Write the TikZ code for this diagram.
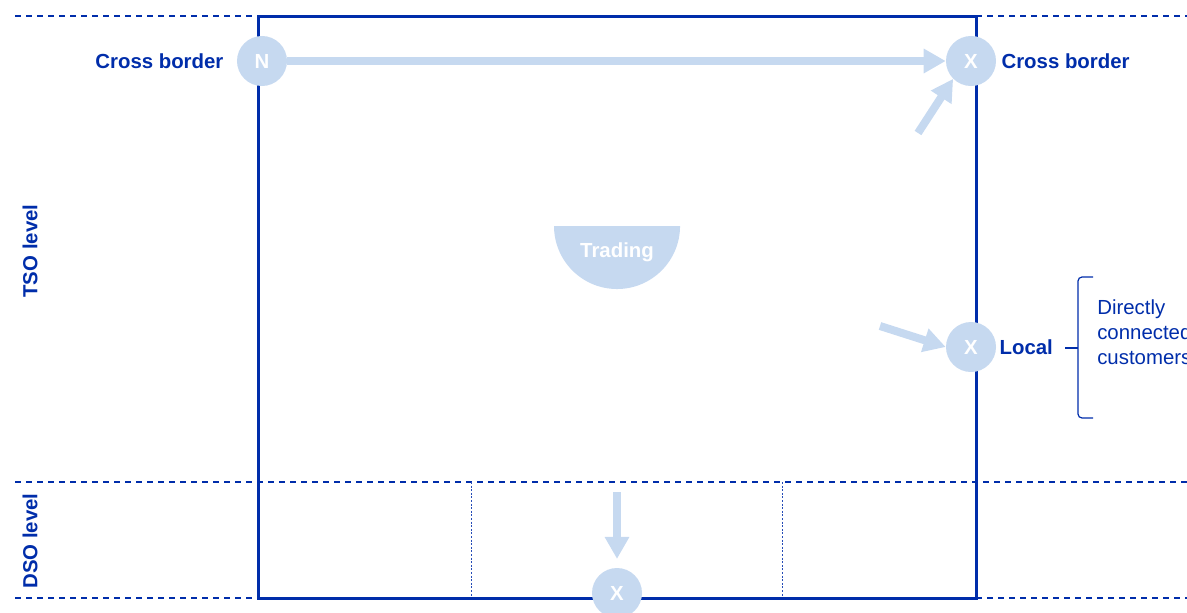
\documentclass[tikz,border=0pt]{standalone}
\usepackage{fontspec}
\setmainfont{Liberation Sans}
\usetikzlibrary{positioning, arrows.meta}
\definecolor{darkblue}{RGB}{0,45,170}
\definecolor{paleblue}{RGB}{198,217,240}

\begin{document}
\begin{tikzpicture}[
    x=0.025cm, y=-0.025cm,
    every node/.style={font=\fontsize{14.5}{17.7}\selectfont},
    frame/.style={draw=darkblue, line width=0.075cm},
    level/.style={draw=darkblue, line width=0.04cm, dash pattern=on 0.15cm off 0.125cm},
    split/.style={draw=darkblue!85, line width=0.022cm, dash pattern=on 0.05cm off 0.04cm},
    point/.style={circle, fill=paleblue, minimum size=1.25cm, inner sep=0pt, text=white, font=\fontsize{14.5}{17.7}\selectfont\bfseries},
    tag/.style={inner sep=0pt, text=darkblue, font=\fontsize{14.5}{17.7}\selectfont\bfseries},
    flow/.style={-{Triangle[length=0.55cm, width=0.58cm]}, draw=paleblue, line width=0.2cm},
]
    \useasboundingbox (0,0) rectangle (1187,612);
    \clip (0,0) rectangle (1187,612);

    % level lines
    \draw[level] (15,16) -- (258,16);
    \draw[level] (976,16) -- (1187,16);
    \draw[level] (15,482) -- (1187,482);
    \draw[level] (15,598) -- (258,598);
    \draw[level] (976,598) -- (1187,598);
    \draw[split] (471,482) -- (471,598);
    \draw[split] (782,482) -- (782,598);
    \draw[frame] (258,16) rectangle (976,598);

    \node[tag, rotate=90] (tso) at (30,251) {TSO level};
    \node[tag, rotate=90] (dso) at (30,541) {DSO level};

    \fill[paleblue] (554,226) arc[start angle=180, end angle=360, radius=1.575cm] -- cycle;
    \node[text=white, font=\fontsize{14.5}{17.7}\selectfont\bfseries] (trading) at (617,252) {Trading};

    \node[point] (nIn) at (262,61) {N};
    \node[point] (xOut) at (971,61) {X};
    \node[point] (xLocal) at (971,347) {X};
    \node[point] (xDso) at (617,593) {X};

    \node[tag, left=0.325cm of nIn] (crossIn) {Cross border};
    \node[tag, right=0.125cm of xOut] (crossOut) {Cross border};
    \node[tag, right=0.075cm of xLocal] (local) {Local};

    \coordinate (tailTop) at (918,133);
    \coordinate (tailLocal) at (880,326);
    \coordinate (tailDso) at (617,492);

    \draw[flow] (nIn) -- (xOut);
    \draw[flow] (tailTop) -- (xOut.south west);
    \draw[flow] (tailLocal) -- (xLocal.west);
    \draw[flow, shorten >=0.22cm] (tailDso) -- (xDso.north);

    % customers bracket
    \draw[darkblue, line width=0.03cm, rounded corners=0.1cm] (1093,277) -- (1078,277) -- (1078,348) -- (1078,418) -- (1093,418);
    \draw[darkblue, line width=0.03cm] (1065,348) -- (1078,348);
    \node[anchor=west, inner sep=0pt, align=left, text=darkblue] (customers) at (1097,332) {Directly\\connected\\customers};
\end{tikzpicture}
\end{document}
